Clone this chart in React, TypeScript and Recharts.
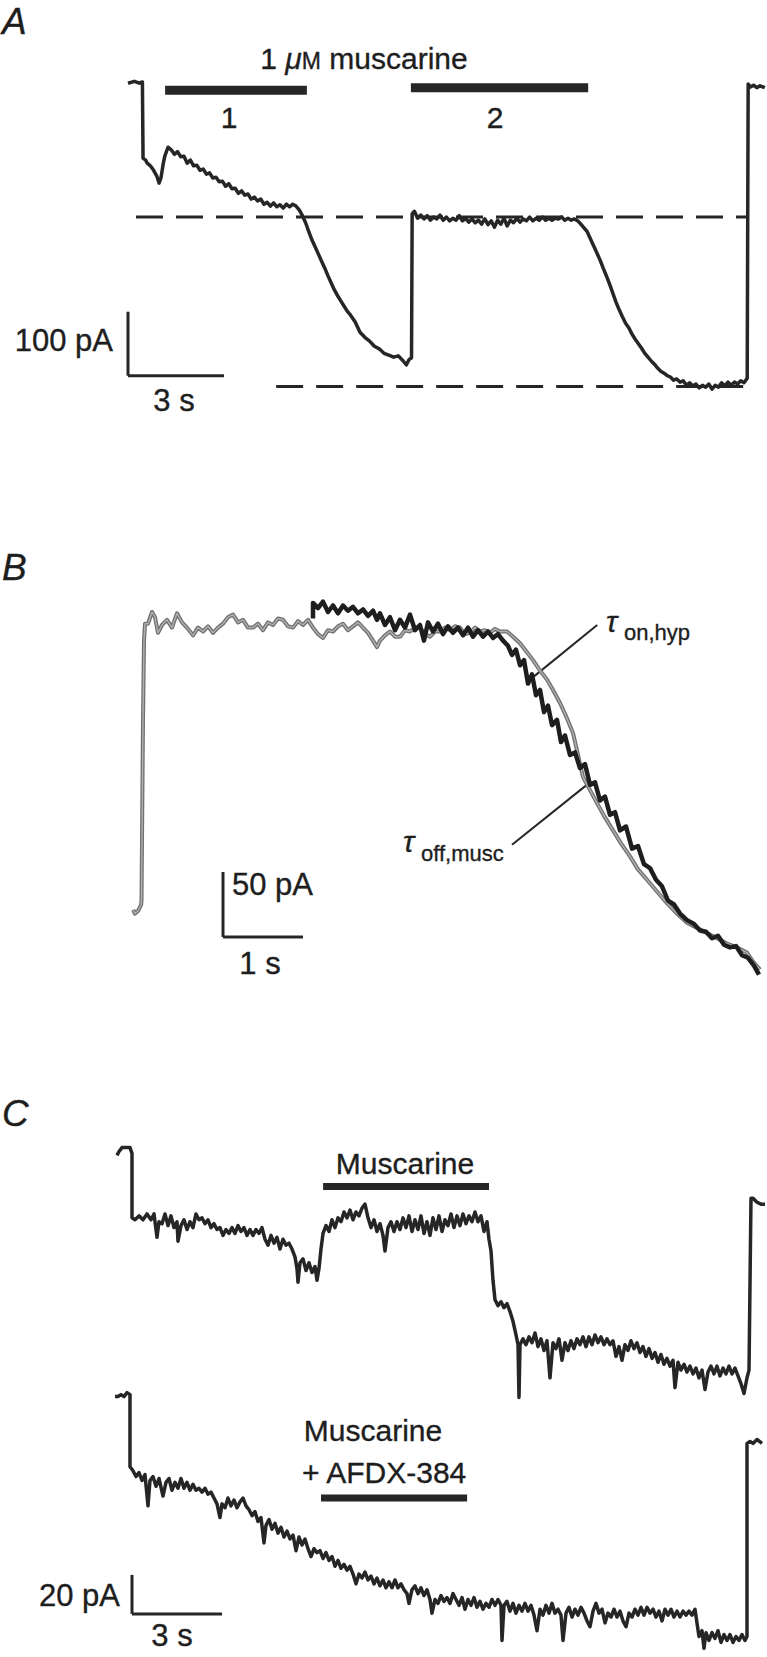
import { LineChart, Line, XAxis, YAxis, ReferenceLine } from 'recharts';
import type { ReactNode } from 'react';

// Panel A: holding current (pA, relative to control level) vs time (s)
const traceA: [number, number][] = [
  [0, 209], [0.2, 212], [0.35, 209], [0.45, 211], [0.47, 92], [0.55, 89], [0.6, 84], [0.7, 80], [0.8, 73],
  [0.9, 64], [0.97, 53], [1.03, 61], [1.1, 83], [1.15, 95], [1.25, 109], [1.35, 105], [1.45, 98], [1.55, 102],
  [1.65, 94], [1.75, 95], [1.85, 84], [1.95, 89], [2.05, 80], [2.15, 81], [2.25, 73], [2.35, 75], [2.45, 67],
  [2.55, 69], [2.65, 61], [2.75, 62], [2.85, 55], [2.95, 56], [3.05, 48], [3.15, 52], [3.25, 44], [3.35, 45],
  [3.45, 37], [3.55, 41], [3.65, 34], [3.75, 36], [3.85, 28], [3.95, 31], [4.05, 25], [4.15, 28], [4.25, 20],
  [4.35, 23], [4.45, 17], [4.55, 22], [4.65, 16], [4.75, 19], [4.85, 14], [4.95, 20], [5.05, 16], [5.15, 20],
  [5.25, 17], [5.35, 11], [5.45, 2], [5.55, -9], [5.65, -23], [5.75, -36], [5.85, -47], [5.95, -58], [6.05, -69],
  [6.15, -80], [6.25, -92], [6.35, -103], [6.45, -114], [6.55, -123], [6.65, -131], [6.75, -139], [6.85, -147],
  [6.95, -153], [7.1, -164], [7.25, -180], [7.4, -188], [7.55, -194], [7.7, -202], [7.85, -206], [8.0, -213],
  [8.15, -216], [8.3, -219], [8.45, -217], [8.6, -225], [8.7, -231], [8.78, -223], [8.86, -220], [8.88, 5],
  [8.95, 9], [9.05, -2], [9.15, 3], [9.25, -3], [9.35, 2], [9.45, -5], [9.55, 0], [9.65, -3], [9.75, 3],
  [9.85, -5], [9.95, 0], [10.05, -6], [10.15, -2], [10.25, -5], [10.35, 2], [10.45, -6], [10.55, -2],
  [10.65, -8], [10.75, -3], [10.85, -9], [10.95, -5], [11.05, -11], [11.15, -3], [11.25, -12], [11.35, -6],
  [11.45, -16], [11.55, -5], [11.65, -11], [11.75, -2], [11.85, -14], [11.95, -5], [12.05, -9], [12.15, -2],
  [12.25, -8], [12.35, -3], [12.45, -6], [12.55, 0], [12.65, -6], [12.75, -2], [12.85, -5], [12.95, 0],
  [13.05, -5], [13.15, -2], [13.25, -5], [13.35, -2], [13.45, -3], [13.55, 0], [13.65, -5], [13.75, -2],
  [13.85, -5], [13.95, -3], [14.05, -6], [14.15, -11], [14.25, -17], [14.35, -23], [14.45, -34], [14.55, -45],
  [14.65, -56], [14.75, -67], [14.85, -80], [14.95, -92], [15.05, -105], [15.15, -119], [15.25, -133],
  [15.35, -145], [15.45, -156], [15.55, -166], [15.65, -173], [15.75, -183], [15.85, -191], [15.95, -198],
  [16.05, -205], [16.15, -213], [16.25, -219], [16.35, -225], [16.45, -230], [16.55, -236], [16.65, -241],
  [16.75, -244], [16.85, -248], [16.95, -250], [17.05, -255], [17.15, -253], [17.25, -258], [17.35, -256],
  [17.45, -263], [17.55, -259], [17.65, -264], [17.75, -261], [17.85, -267], [17.95, -263], [18.05, -266],
  [18.15, -261], [18.25, -269], [18.35, -263], [18.45, -266], [18.55, -259], [18.65, -264], [18.75, -258],
  [18.85, -263], [18.95, -258], [19.05, -261], [19.15, -256], [19.25, -259], [19.35, -252], [19.38, 208],
  [19.45, 203], [19.55, 206], [19.65, 202], [19.75, 205], [19.9, 202],
];
const barsA: [number, number, number][] = [[1.16, 5.59, 198], [8.84, 14.38, 202]]; // start s, end s, level
const dashLevelsA: [number, number, number][] = [[0.25, 19.38, 0], [4.63, 19.38, -265]];
const scaleA = { t: 0, i: -248, di: 100, dt: 3 };

// Panel B: grey = muscarine washout, black = hyperpolarisation onset
const traceBGrey: [number, number][] = [
  [-0.11, -219], [-0.09, -222], [-0.05, -220], [-0.01, -215], [-0.006, -211], [0.0125, -73], [0.025, -12],
  [0.0375, 1], [0.075, 1], [0.125, 10], [0.1625, 6], [0.2, -6], [0.25, 0], [0.3125, 4], [0.375, -2], [0.4375, 9],
  [0.5, 2], [0.5625, -2], [0.6375, -8], [0.7, -2], [0.7625, -5], [0.825, -1], [0.8875, -6], [0.95, -2],
  [1.0125, 1], [1.075, 6], [1.1375, 8], [1.2, 2], [1.2625, 4], [1.325, -2], [1.3875, -2], [1.45, 1],
  [1.5125, -4], [1.575, 2], [1.6375, 0], [1.7, 5], [1.7625, 4], [1.825, -1], [1.8875, -2], [1.95, 3],
  [2.0125, 0], [2.075, 4], [2.1375, -2], [2.2, -7], [2.2625, -10], [2.325, -4], [2.3875, -5], [2.45, -1],
  [2.5125, 1], [2.575, -4], [2.6375, -1], [2.7, 2], [2.7625, -2], [2.825, -6], [2.8875, -12], [2.9375, -17],
  [2.975, -12], [3.0375, -8], [3.1, -5], [3.1625, -9], [3.225, -9], [3.2875, -4], [3.35, -5], [3.4125, -2],
  [3.475, -2], [3.5375, -7], [3.6, -9], [3.6625, -5], [3.725, -5], [3.7875, -2], [3.85, -4], [3.9125, -1],
  [3.975, -2], [4.0375, -7], [4.1, -6], [4.1625, -2], [4.225, -5], [4.2875, -4], [4.35, -6], [4.4125, -3],
  [4.475, -5], [4.5625, -5], [4.6375, -9], [4.725, -14], [4.8, -20], [4.8875, -27], [4.975, -35], [5.0625, -42],
  [5.1375, -50], [5.225, -60], [5.3, -70], [5.3875, -83], [5.45, -100], [5.5125, -117], [5.6, -127],
  [5.6875, -137], [5.7875, -148], [5.8875, -158], [5.9875, -168], [6.1, -178], [6.2, -188], [6.3125, -196],
  [6.4375, -205], [6.5625, -214], [6.6875, -222], [6.8125, -229], [6.9375, -233], [7.0625, -237],
  [7.1875, -241], [7.3125, -245], [7.4375, -248], [7.5625, -252], [7.6375, -259], [7.725, -265],
];
const traceBBlack: [number, number][] = [
  [2.1375, 5], [2.1375, 17], [2.2, 13], [2.2625, 18], [2.325, 10], [2.3875, 15], [2.45, 9], [2.5125, 15],
  [2.575, 11], [2.6375, 14], [2.7, 9], [2.7625, 12], [2.825, 7], [2.8875, 11], [2.9375, 4], [2.975, 9],
  [3.0375, 0], [3.1, 6], [3.1625, -4], [3.225, 4], [3.2875, -2], [3.35, 8], [3.4125, -4], [3.475, 0],
  [3.525, -12], [3.575, 2], [3.6375, -5], [3.7, 1], [3.7625, -7], [3.825, -1], [3.8875, -6], [3.95, -2],
  [4.0125, -8], [4.075, -2], [4.1375, -9], [4.2, -4], [4.2625, -9], [4.325, -5], [4.3875, -10], [4.45, -7],
  [4.5125, -12], [4.575, -16], [4.625, -23], [4.675, -19], [4.725, -31], [4.775, -27], [4.825, -45],
  [4.875, -38], [4.925, -54], [4.975, -50], [5.025, -67], [5.075, -62], [5.125, -77], [5.1875, -73],
  [5.2375, -90], [5.2875, -85], [5.35, -100], [5.4125, -98], [5.475, -110], [5.5375, -107], [5.6, -123],
  [5.6625, -121], [5.725, -135], [5.7875, -132], [5.85, -146], [5.9125, -144], [5.975, -158], [6.05, -155],
  [6.125, -172], [6.2, -170], [6.275, -184], [6.35, -187], [6.425, -196], [6.5, -201], [6.575, -212],
  [6.65, -215], [6.725, -222], [6.8125, -227], [6.9, -230], [6.975, -235], [7.05, -236], [7.125, -241],
  [7.2, -239], [7.275, -246], [7.35, -248], [7.425, -247], [7.5, -254], [7.575, -256], [7.65, -262],
  [7.7125, -269],
];
const scaleB = { t: 1.0125, i: -240, di: 50, dt: 1 };
const leadersB: [number, number, number, number][] = [[5.69, 0, 4.85, -42], [4.625, -169, 5.56, -123]];

// Panel C: muscarine alone (top) and with AFDX-384 (bottom)
const traceCTop: [number, number][] = [
  [-0.5, 32], [-0.433, 34], [-0.333, 36], [-0.2, 36], [-0.067, 36], [0, 33], [0, 0], [0.1, -1], [0.233, 1],
  [0.367, -1], [0.5, 2], [0.633, -1], [0.733, 2], [0.833, -10], [0.9, -2], [1.0, -3], [1.1, 2], [1.2, -4],
  [1.3, 1], [1.4, -5], [1.5, -2], [1.533, -12], [1.633, -4], [1.733, -1], [1.833, -6], [1.933, -2], [2.033, -5],
  [2.133, 2], [2.233, -1], [2.333, 0], [2.433, -3], [2.533, -1], [2.633, -5], [2.733, -3], [2.833, -6],
  [2.933, -5], [3.033, -9], [3.133, -6], [3.233, -8], [3.333, -5], [3.433, -8], [3.533, -4], [3.633, -7],
  [3.733, -5], [3.833, -9], [3.933, -6], [4.033, -9], [4.133, -6], [4.233, -8], [4.333, -5], [4.433, -11],
  [4.533, -14], [4.633, -9], [4.733, -13], [4.833, -10], [4.933, -16], [5.033, -11], [5.133, -14],
  [5.233, -13], [5.333, -16], [5.433, -20], [5.5, -26], [5.533, -33], [5.6, -23], [5.7, -21], [5.8, -27],
  [5.9, -23], [6.0, -28], [6.1, -25], [6.167, -32], [6.233, -26], [6.3, -16], [6.367, -8], [6.467, -4],
  [6.567, -7], [6.667, -1], [6.767, -5], [6.867, 0], [6.967, -2], [7.067, 3], [7.167, 0], [7.267, 4],
  [7.367, -1], [7.467, 3], [7.567, 1], [7.667, 5], [7.767, 7], [7.867, 0], [7.967, -5], [8.067, -1],
  [8.167, -7], [8.267, -3], [8.367, -9], [8.433, -17], [8.533, -5], [8.633, -2], [8.733, -7], [8.833, -2],
  [8.933, -6], [9.033, 0], [9.133, -5], [9.233, 1], [9.333, -7], [9.433, -1], [9.533, -6], [9.633, 1],
  [9.733, -8], [9.833, -2], [9.933, -9], [10.033, 0], [10.133, -6], [10.233, 1], [10.333, -7], [10.433, -1],
  [10.533, -4], [10.633, 2], [10.733, -5], [10.833, 1], [10.933, -4], [11.033, 2], [11.133, -3], [11.233, 1],
  [11.333, -2], [11.433, 3], [11.533, -2], [11.633, 1], [11.733, -7], [11.833, -2], [11.9, -11], [11.967, -17],
  [12.033, -32], [12.1, -42], [12.2, -45], [12.3, -43], [12.4, -46], [12.5, -44], [12.6, -48], [12.7, -53],
  [12.8, -60], [12.867, -65], [12.9, -92], [12.933, -65], [13.033, -62], [13.133, -65], [13.233, -61],
  [13.333, -64], [13.433, -59], [13.533, -66], [13.633, -62], [13.733, -68], [13.833, -63], [13.933, -82],
  [14.033, -64], [14.133, -67], [14.233, -62], [14.333, -73], [14.433, -64], [14.533, -68], [14.633, -63],
  [14.733, -67], [14.833, -62], [14.933, -65], [15.033, -61], [15.133, -66], [15.233, -61], [15.333, -65],
  [15.433, -60], [15.533, -64], [15.633, -61], [15.733, -65], [15.833, -62], [15.933, -65], [16.033, -63],
  [16.133, -71], [16.233, -66], [16.333, -73], [16.433, -65], [16.533, -68], [16.633, -63], [16.733, -67],
  [16.833, -64], [16.933, -69], [17.033, -66], [17.133, -71], [17.233, -67], [17.333, -72], [17.433, -69],
  [17.533, -74], [17.633, -70], [17.733, -75], [17.833, -72], [17.933, -76], [18.033, -73], [18.1, -87],
  [18.2, -74], [18.3, -78], [18.4, -75], [18.5, -79], [18.6, -76], [18.7, -80], [18.8, -77], [18.9, -82],
  [19.0, -78], [19.1, -88], [19.2, -79], [19.3, -76], [19.4, -80], [19.5, -76], [19.6, -81], [19.7, -77],
  [19.8, -80], [19.9, -76], [20.0, -80], [20.1, -77], [20.2, -81], [20.3, -85], [20.4, -90], [20.5, -82],
  [20.567, -78], [20.633, 10], [20.7, 10], [20.833, 8], [20.967, 7], [21.1, 7],
];
const traceCBottom: [number, number][] = [
  [-0.567, 36], [-0.467, 36], [-0.367, 37], [-0.267, 36], [-0.167, 38], [-0.067, 37], [-0.067, 0], [0.033, -2],
  [0.133, -5], [0.233, -3], [0.333, -7], [0.433, -4], [0.533, -20], [0.6, -7], [0.7, -5], [0.8, -10], [0.9, -6],
  [1.033, -15], [1.133, -8], [1.233, -6], [1.333, -12], [1.433, -8], [1.533, -11], [1.633, -6], [1.733, -11],
  [1.833, -8], [1.933, -12], [2.033, -9], [2.133, -12], [2.233, -11], [2.333, -13], [2.433, -11], [2.533, -14],
  [2.633, -13], [2.733, -16], [2.833, -19], [2.933, -26], [3.0, -19], [3.1, -21], [3.2, -16], [3.3, -20],
  [3.4, -17], [3.5, -21], [3.6, -18], [3.7, -16], [3.8, -20], [3.9, -22], [4.0, -25], [4.1, -23], [4.2, -28],
  [4.3, -26], [4.4, -39], [4.467, -30], [4.567, -27], [4.667, -32], [4.767, -29], [4.867, -34], [4.967, -31],
  [5.067, -36], [5.167, -33], [5.267, -37], [5.367, -35], [5.467, -43], [5.567, -36], [5.667, -40],
  [5.767, -37], [5.867, -42], [5.967, -46], [6.067, -42], [6.167, -44], [6.267, -43], [6.367, -47],
  [6.467, -44], [6.567, -48], [6.667, -46], [6.767, -51], [6.867, -48], [6.967, -52], [7.067, -50],
  [7.167, -53], [7.267, -51], [7.367, -55], [7.467, -60], [7.567, -55], [7.667, -57], [7.767, -54],
  [7.867, -58], [7.967, -56], [8.067, -60], [8.167, -57], [8.267, -61], [8.367, -58], [8.467, -62],
  [8.567, -59], [8.667, -62], [8.767, -58], [8.867, -62], [8.967, -60], [9.067, -63], [9.167, -65],
  [9.233, -70], [9.333, -63], [9.433, -61], [9.533, -65], [9.633, -62], [9.733, -66], [9.833, -63],
  [9.933, -68], [10.0, -75], [10.1, -68], [10.2, -70], [10.3, -66], [10.4, -69], [10.5, -67], [10.6, -70],
  [10.7, -65], [10.8, -68], [10.9, -71], [11.0, -67], [11.1, -73], [11.2, -68], [11.3, -71], [11.4, -67],
  [11.5, -72], [11.6, -69], [11.7, -73], [11.8, -70], [11.9, -72], [12.0, -68], [12.1, -71], [12.2, -68],
  [12.3, -71], [12.333, -89], [12.4, -71], [12.5, -69], [12.6, -74], [12.7, -70], [12.8, -75], [12.9, -71],
  [13.0, -74], [13.1, -70], [13.2, -74], [13.3, -71], [13.4, -76], [13.5, -84], [13.6, -73], [13.7, -76],
  [13.8, -71], [13.9, -75], [14.0, -70], [14.1, -75], [14.2, -73], [14.3, -76], [14.367, -89], [14.467, -75],
  [14.567, -72], [14.667, -77], [14.767, -73], [14.867, -76], [14.967, -72], [15.067, -75], [15.167, -79],
  [15.267, -82], [15.367, -74], [15.467, -70], [15.567, -75], [15.667, -73], [15.767, -80], [15.867, -75],
  [15.967, -77], [16.067, -73], [16.167, -77], [16.267, -74], [16.367, -79], [16.467, -82], [16.567, -75],
  [16.667, -77], [16.767, -73], [16.867, -76], [16.967, -72], [17.067, -76], [17.167, -72], [17.267, -75],
  [17.367, -73], [17.467, -77], [17.567, -74], [17.667, -79], [17.767, -73], [17.867, -76], [17.967, -73],
  [18.067, -77], [18.167, -74], [18.267, -77], [18.367, -74], [18.467, -76], [18.567, -74], [18.667, -76],
  [18.767, -73], [18.833, -80], [18.9, -87], [19.0, -84], [19.067, -93], [19.133, -85], [19.233, -89],
  [19.333, -85], [19.433, -88], [19.533, -84], [19.633, -90], [19.733, -86], [19.833, -89], [19.933, -86],
  [20.033, -90], [20.133, -87], [20.233, -89], [20.333, -86], [20.433, -89], [20.5, -87], [20.5, 12],
  [20.6, 13], [20.7, 12], [20.833, 14], [21.0, 12],
];
const barCTop: [number, number, number] = [6.37, 11.9, 16];
const barCBottom: [number, number, number] = [6.3, 11.17, -16];
const scaleC = { t: 0, i: -75.4, di: 20, dt: 3 };

const FONT = '"Liberation Sans", Arial, Helvetica, sans-serif';
const INK = '#262626';

const toPts = (arr: [number, number][]) => arr.map(([t, i]) => ({ t, i }));

function Trace({ left, top, width, height, xDomain, yDomain, children }: {
  left: number; top: number; width: number; height: number;
  xDomain: [number, number]; yDomain: [number, number]; children: ReactNode;
}) {
  return (
    <div style={{ position: 'absolute', left, top, width, height }}>
      <LineChart width={width} height={height} margin={{ top: 0, right: 0, bottom: 0, left: 0 }}>
        <XAxis type="number" dataKey="t" domain={xDomain} hide allowDataOverflow />
        <YAxis type="number" domain={yDomain} hide allowDataOverflow />
        {children}
      </LineChart>
    </div>
  );
}

function seg(x1: number, y1: number, x2: number, y2: number, key: string, w = 3, dash?: string) {
  return (
    <ReferenceLine key={key} segment={[{ x: x1, y: y1 }, { x: x2, y: y2 }]} stroke={INK}
      strokeWidth={w} strokeDasharray={dash} ifOverflow="visible" />
  );
}

export default function App() {
  return (
    <div style={{ position: 'absolute', left: 0, top: 0, width: 767, height: 1657, overflow: 'hidden', background: '#fff' }}>
      {/* A */}
      <Trace left={112} top={69} width={656} height={340} xDomain={[-0.5, 20]} yDomain={[-300, 231.25]}>
        {dashLevelsA.map(([a, b, y], k) => seg(a, y, b, y, 'd' + k, 3, '27 13'))}
        {barsA.map(([a, b, y], k) => seg(a, y, b, y, 'b' + k, 9))}
        {seg(scaleA.t, scaleA.i + scaleA.di, scaleA.t, scaleA.i, 'sv')}
        {seg(scaleA.t, scaleA.i, scaleA.t + scaleA.dt, scaleA.i, 'sh')}
        <Line data={toPts(traceA)} dataKey="i" dot={false} stroke={INK} strokeWidth={3.5}
          strokeLinejoin="round" isAnimationActive={false} />
      </Trace>

      {/* B */}
      <Trace left={122} top={573} width={644} height={442} xDomain={[-0.25, 7.8]} yDomain={[-300, 40]}>
        {seg(scaleB.t, scaleB.i + scaleB.di, scaleB.t, scaleB.i, 'sv')}
        {seg(scaleB.t, scaleB.i, scaleB.t + scaleB.dt, scaleB.i, 'sh')}
        {leadersB.map(([a, b, c, d], k) => seg(a, b, c, d, 'l' + k, 2))}
        <Line data={toPts(traceBGrey)} dataKey="i" dot={false} stroke="#707070" strokeWidth={4}
          strokeLinejoin="round" isAnimationActive={false} />
        <Line data={toPts(traceBGrey)} dataKey="i" dot={false} stroke="#b0b0b0" strokeWidth={1.4}
          strokeLinejoin="round" isAnimationActive={false} />
        <Line data={toPts(traceBBlack)} dataKey="i" dot={false} stroke="#1e1e1e" strokeWidth={4.5}
          strokeLinejoin="round" isAnimationActive={false} />
      </Trace>

      {/* C top */}
      <Trace left={114} top={1130} width={654} height={283} xDomain={[-0.6, 21.2]} yDomain={[-100, 45]}>
        {seg(barCTop[0], barCTop[2], barCTop[1], barCTop[2], 'bar', 7)}
        <Line data={toPts(traceCTop)} dataKey="i" dot={false} stroke={INK} strokeWidth={3.5}
          strokeLinejoin="round" isAnimationActive={false} />
      </Trace>

      {/* C bottom */}
      <Trace left={114} top={1379} width={654} height={279} xDomain={[-0.6, 21.2]} yDomain={[-98, 45]}>
        {seg(barCBottom[0], barCBottom[2], barCBottom[1], barCBottom[2], 'bar', 7)}
        {seg(scaleC.t, scaleC.i + scaleC.di, scaleC.t, scaleC.i, 'sv')}
        {seg(scaleC.t, scaleC.i, scaleC.t + scaleC.dt, scaleC.i, 'sh')}
        <Line data={toPts(traceCBottom)} dataKey="i" dot={false} stroke={INK} strokeWidth={3.5}
          strokeLinejoin="round" isAnimationActive={false} />
      </Trace>

      <svg width={767} height={1657} style={{ position: 'absolute', left: 0, top: 0, pointerEvents: 'none' }}
        fontFamily={FONT} fill="#1e1e1e" stroke="#1e1e1e" strokeWidth={0.35}>
        <text x={2} y={34} fontSize={37} fontStyle="italic">A</text>
        <text x={2} y={580} fontSize={37} fontStyle="italic">B</text>
        <text x={2} y={1126} fontSize={37} fontStyle="italic">C</text>

        <text x={364} y={69} fontSize={30} textAnchor="middle">
          1 <tspan fontStyle="italic">μ</tspan><tspan fontSize={23}>M</tspan> muscarine
        </text>
        <text x={229} y={128} fontSize={30} textAnchor="middle">1</text>
        <text x={495} y={128} fontSize={30} textAnchor="middle">2</text>
        <text x={113} y={351} fontSize={31} textAnchor="end">100 pA</text>
        <text x={174} y={411} fontSize={31} textAnchor="middle">3 s</text>

        <text x={232} y={895} fontSize={31}>50 pA</text>
        <text x={260} y={974} fontSize={31} textAnchor="middle">1 s</text>
        <text x={606} y={632} fontSize={30} fontStyle="italic">τ</text>
        <text x={624} y={640} fontSize={22}>on,hyp</text>
        <text x={403} y={852} fontSize={30} fontStyle="italic">τ</text>
        <text x={421} y={861} fontSize={22}>off,musc</text>

        <text x={405} y={1174} fontSize={30} textAnchor="middle">Muscarine</text>
        <text x={373} y={1441} fontSize={30} textAnchor="middle">Muscarine</text>
        <text x={302} y={1483} fontSize={30}>+ AFDX-384</text>
        <text x={120} y={1606} fontSize={31} textAnchor="end">20 pA</text>
        <text x={172} y={1646} fontSize={31} textAnchor="middle">3 s</text>
      </svg>
    </div>
  );
}
